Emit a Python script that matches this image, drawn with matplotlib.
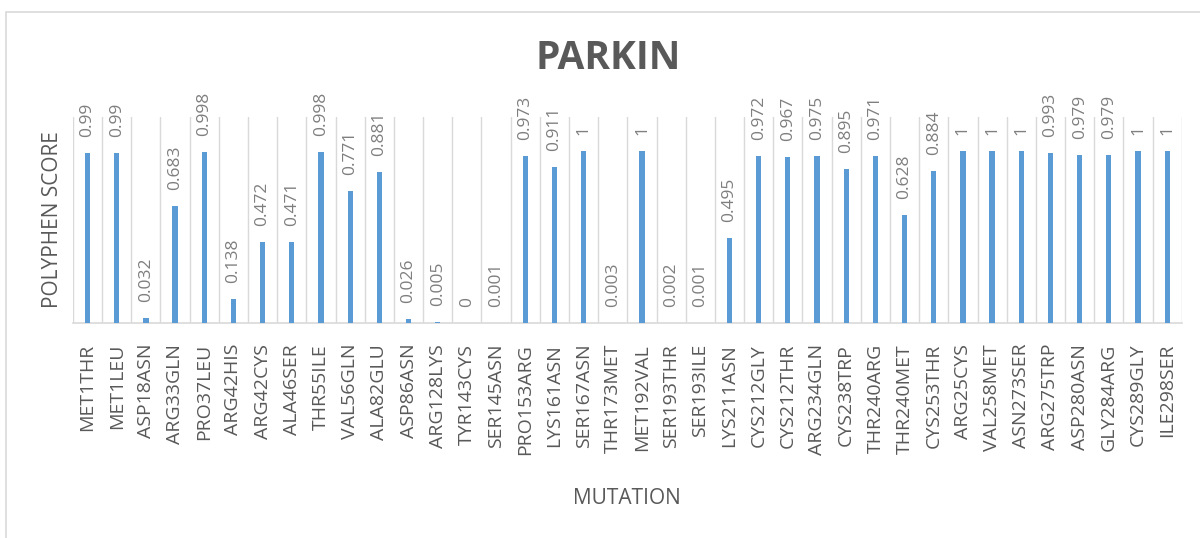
import numpy as np
import matplotlib.pyplot as plt
from matplotlib.patches import Rectangle

mutations = ['MET1THR', 'MET1LEU', 'ASP18ASN', 'ARG33GLN', 'PRO37LEU', 'ARG42HIS',
             'ARG42CYS', 'ALA46SER', 'THR55ILE', 'VAL56GLN', 'ALA82GLU', 'ASP86ASN',
             'ARG128LYS', 'TYR143CYS', 'SER145ASN', 'PRO153ARG', 'LYS161ASN', 'SER167ASN',
             'THR173MET', 'MET192VAL', 'SER193THR', 'SER193ILE', 'LYS211ASN', 'CYS212GLY',
             'CYS212THR', 'ARG234GLN', 'CYS238TRP', 'THR240ARG', 'THR240MET', 'CYS253THR',
             'ARG25CYS', 'VAL258MET', 'ASN273SER', 'ARG275TRP', 'ASP280ASN', 'GLY284ARG',
             'CYS289GLY', 'ILE298SER']
scores = [0.99, 0.99, 0.032, 0.683, 0.998, 0.138, 0.472, 0.471, 0.998, 0.771, 0.881,
          0.026, 0.005, 0, 0.001, 0.973, 0.911, 1, 0.003, 1, 0.002, 0.001, 0.495, 0.972,
          0.967, 0.975, 0.895, 0.971, 0.628, 0.884, 1, 1, 1, 0.993, 0.979, 0.979, 1, 1]

plt.rcParams['font.family'] = ['Open Sans', 'DejaVu Sans']
grey = '#595959'

fig = plt.figure(figsize=(12, 5.38), dpi=100)
ax = fig.add_axes([0.0608, 0.3996, 0.924, 0.3829])

# outer chart border
fig.patches.append(Rectangle((0.005, -0.05), 1.1, 1.028, transform=fig.transFigure,
                             fill=False, edgecolor='#d9d9d9', linewidth=1.2))

x = np.arange(len(mutations))
ax.bar(x, scores, width=0.18, color='#5b9bd5', zorder=3)

for xi, v in zip(x, scores):
    ax.annotate(f'{v:g}', (xi, v), xytext=(0, 11.5), textcoords='offset points',
                rotation=90, ha='center', va='bottom', fontsize=12.5, color='#7f7f7f')

ax.set_xlim(-0.5, len(mutations) - 0.5)
ax.set_ylim(0, 1.2)
ax.set_xticks(x)
ax.set_xticklabels(mutations, rotation=90, fontsize=14, color=grey)
ax.set_xticks(np.arange(-0.5, len(mutations)), minor=True)
ax.grid(which='minor', axis='x', color='#d9d9d9', linewidth=1)
ax.tick_params(axis='x', which='both', length=0, pad=15)
ax.set_yticks([])
for s in ['top', 'left', 'right']:
    ax.spines[s].set_visible(False)
ax.spines['bottom'].set_color('#d9d9d9')
ax.spines['bottom'].set_linewidth(1.2)

ax.set_ylabel('POLYPHEN SCORE', fontsize=15, color=grey)
ax.yaxis.set_label_coords(-0.009, 0.5)
ax.set_xlabel('MUTATION', fontsize=15, color=grey)
ax.xaxis.set_label_coords(0.5, -0.80)
fig.text(0.507, 0.892, 'PARKIN', ha='center', va='center', fontsize=28,
         fontweight='bold', color=grey)

fig.savefig('out.png', dpi=100, facecolor='white')
